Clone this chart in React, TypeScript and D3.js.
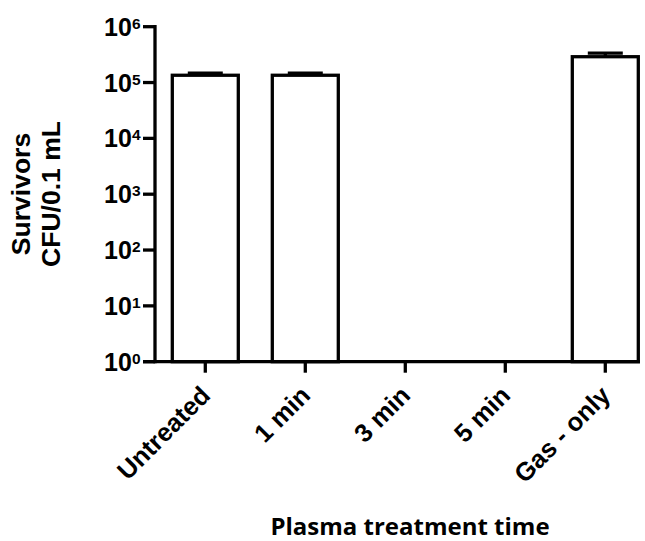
import React from "react";
import * as d3 from "d3";

const categories = ["Untreated", "1 min", "3 min", "5 min", "Gas - only"];
const means: (number | null)[] = [1.35e5, 1.35e5, null, null, 2.9e5];
const errorsUpper: (number | null)[] = [1.47e5, 1.47e5, null, null, 3.35e5];
const yTickExps = [0, 1, 2, 3, 4, 5, 6];
const yTitleLines = ["Survivors", "CFU/0.1 mL"];
const xTitle = "Plasma treatment time";

const W = 645;
const H = 541;
const axisX = 155;
const axisY = 361.7;
const topY = 26.7;
const SW = 3.3;

export default function App() {
  const y = d3.scaleLog().domain([1, 1e6]).range([axisY, topY]);
  const x = d3
    .scaleBand<string>()
    .domain(categories)
    .range([axisX + 0.3, axisX + 500.3])
    .padding(0);
  const barW = x.bandwidth() * 0.66;
  const capHalf = 17.5;
  const cx = (c: string) => (x(c) as number) + x.bandwidth() / 2;
  const arial = "'Liberation Sans', Arial, Helvetica, sans-serif";

  return (
    <svg
      width={W}
      height={H}
      style={{ position: "absolute", left: 0, top: 0, background: "#fff" }}
    >
      <rect x={0} y={0} width={W} height={H} fill="#fff" />
      {/* bars */}
      {categories.map((c, i) => {
        const v = means[i];
        if (v == null) return null;
        const e = errorsUpper[i] as number;
        const xc = cx(c);
        return (
          <g key={c}>
            <line x1={xc} x2={xc} y1={y(v)} y2={y(e)} stroke="#000" strokeWidth={SW} />
            <line
              x1={xc - capHalf}
              x2={xc + capHalf}
              y1={y(e)}
              y2={y(e)}
              stroke="#000"
              strokeWidth={SW}
            />
            <rect
              x={xc - barW / 2}
              y={y(v)}
              width={barW}
              height={axisY - y(v)}
              fill="#fff"
              stroke="#000"
              strokeWidth={SW}
            />
          </g>
        );
      })}
      {/* y axis */}
      <line x1={axisX} x2={axisX} y1={topY - SW / 2} y2={axisY + SW / 2} stroke="#000" strokeWidth={SW} />
      {yTickExps.map((p) => {
        const ty = y(Math.pow(10, p));
        return (
          <g key={p}>
            <line x1={143} x2={axisX} y1={ty} y2={ty} stroke="#000" strokeWidth={SW} />
            <text
              x={140.5}
              y={ty + 9}
              textAnchor="end"
              fontFamily={arial}
              fontWeight="bold"
              fontSize={25}
              fill="#000"
            >
              10
              <tspan fontSize={15.5} dy={-7}>
                {p}
              </tspan>
            </text>
          </g>
        );
      })}
      {/* x axis */}
      <line x1={143} x2={640} y1={axisY} y2={axisY} stroke="#000" strokeWidth={SW} />
      {categories.map((c) => {
        const xc = cx(c);
        return (
          <g key={c}>
            <line x1={xc} x2={xc} y1={axisY} y2={axisY + 11} stroke="#000" strokeWidth={SW} />
            <text
              transform={`translate(${xc + 6.5},${397}) rotate(-45)`}
              textAnchor="end"
              fontFamily={arial}
              fontWeight="bold"
              fontSize={25.5}
              fill="#000"
            >
              {c}
            </text>
          </g>
        );
      })}
      {/* y title */}
      {yTitleLines.map((t, i) => (
        <text
          key={t}
          transform={`translate(${30 + i * 30},${194}) rotate(-90)`}
          textAnchor="middle"
          fontFamily={arial}
          fontWeight="bold"
          fontSize={26.5}
          fill="#000"
        >
          {t}
        </text>
      ))}
      {/* x title */}
      <text
        x={410}
        y={535}
        textAnchor="middle"
        fontFamily="'Open Sans', 'Noto Sans', sans-serif"
        fontWeight="bold"
        fontSize={24}
        fill="#000"
      >
        {xTitle}
      </text>
    </svg>
  );
}
